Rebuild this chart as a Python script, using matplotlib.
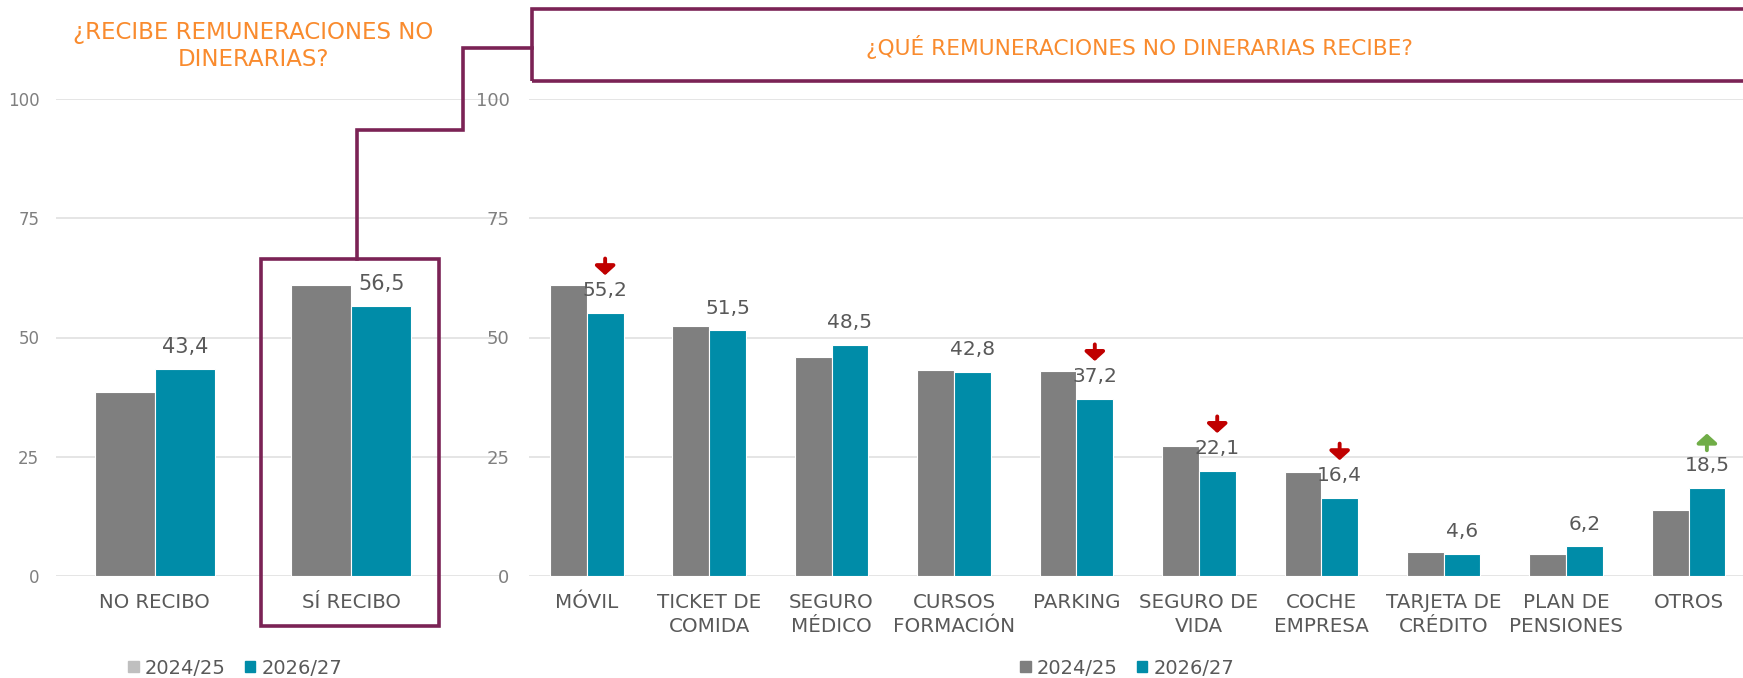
import matplotlib
matplotlib.use("Agg")
import matplotlib.pyplot as plt
import numpy as np
from matplotlib.patches import Patch, Rectangle
from matplotlib.lines import Line2D
from matplotlib.transforms import offset_copy

# data
left_categories = ["NO RECIBO", "SÍ RECIBO"]
left_prev = [38.5, 61.1]
left_curr = [43.4, 56.5]

right_categories = ["MÓVIL", "TICKET DE\nCOMIDA", "SEGURO\nMÉDICO", "CURSOS\nFORMACIÓN",
                    "PARKING", "SEGURO DE\nVIDA", "COCHE\nEMPRESA", "TARJETA DE\nCRÉDITO",
                    "PLAN DE\nPENSIONES", "OTROS"]
right_prev = [61.1, 52.4, 45.9, 43.1, 42.9, 27.3, 21.9, 5.1, 4.7, 13.8]
right_curr = [55.2, 51.5, 48.5, 42.8, 37.2, 22.1, 16.4, 4.6, 6.2, 18.5]
right_trend = [-1, 0, 0, 0, -1, -1, -1, 0, 0, 1]  # -1 down arrow, 1 up arrow

series_labels = ["2024/25", "2026/27"]
y_ticks = [0, 25, 50, 75, 100]

GRAY = "#7F7F7F"
LIGHT_GRAY = "#BFBFBF"
TEAL = "#008CA8"
ORANGE = "#F98B2E"
PURPLE = "#7B2355"
TEXT = "#595959"
TICK = "#7F7F7F"
GRID = "#E3E3E3"
RED = "#C00000"
GREEN = "#70AD47"

WIDE = ["DejaVu Sans"]
NARROW = ["Liberation Sans Narrow", "DejaVu Sans"]

W, H = 1743, 678
fig = plt.figure(figsize=(W / 100, H / 100), dpi=100)


def px_box(x0, x1, y_top, y_bot):
    return [x0 / W, 1 - y_bot / H, (x1 - x0) / W, (y_bot - y_top) / H]


def fx(x):
    return x / W


def fy(y):
    return 1 - y / H


def style_axes(ax, font, tick_pad):
    ax.set_ylim(0, 100)
    ax.set_yticks(y_ticks)
    for s in ax.spines.values():
        s.set_visible(False)
    ax.grid(axis="y", color=GRID, lw=1.3)
    ax.set_axisbelow(True)
    ax.tick_params(axis="both", length=0)
    ax.tick_params(axis="y", pad=tick_pad, labelsize=12, labelcolor=TICK)
    for lab in ax.get_yticklabels():
        lab.set_family(font)


# ---- left panel
axl = fig.add_axes(px_box(56, 500, 99, 576))
xl = np.arange(len(left_categories))
bw = 0.305
axl.bar(xl - bw / 2, left_prev, bw, color=GRAY, edgecolor="white", lw=0.8)
axl.bar(xl + bw / 2, left_curr, bw, color=TEAL, edgecolor="white", lw=0.8)
axl.set_xlim(-0.503, 1.757)
style_axes(axl, WIDE, 12)
axl.set_xticks(xl)
axl.set_xticklabels(left_categories, fontsize=14.2, color=TEXT, family=WIDE)
axl.tick_params(axis="x", pad=12)
for x, v in zip(xl, left_curr):
    axl.annotate(f"{v:.1f}".replace(".", ","), (x + bw / 2, v), xytext=(0, 16),
                 textcoords="offset points", ha="center", va="center",
                 fontsize=15, color=TEXT, family=WIDE)

# ---- right panel
axr = fig.add_axes(px_box(529, 1743, 99, 576))
xr = np.arange(len(right_categories))
bw = 0.30
axr.bar(xr - bw / 2, right_prev, bw, color=GRAY, edgecolor="white", lw=0.8)
axr.bar(xr + bw / 2, right_curr, bw, color=TEAL, edgecolor="white", lw=0.8)
axr.set_xlim(-0.472, 9.445)
style_axes(axr, NARROW, 14)
axr.tick_params(axis="y", labelsize=13)
axr.set_xticks(xr)
axr.set_xticklabels(right_categories, fontsize=14.3, color=TEXT, family=NARROW,
                    linespacing=1.35)
axr.tick_params(axis="x", pad=12)
for x, v, t in zip(xr, right_curr, right_trend):
    axr.annotate(f"{v:.1f}".replace(".", ","), (x + bw / 2, v), xytext=(0, 16),
                 textcoords="offset points", ha="center", va="center",
                 fontsize=14.5, color=TEXT, family=NARROW)
    if t != 0:
        lo = offset_copy(axr.transData, fig=fig, y=27, units="points")
        hi = offset_copy(axr.transData, fig=fig, y=39, units="points")
        pt = (x + bw / 2, v)
        axr.annotate("", xy=pt, xycoords=lo if t < 0 else hi,
                     xytext=pt, textcoords=hi if t < 0 else lo,
                     arrowprops=dict(arrowstyle="-|>,head_width=0.5,head_length=0.45",
                                     lw=2.8, color=RED if t < 0 else GREEN,
                                     shrinkA=0, shrinkB=0, mutation_scale=12))

# ---- titles, frames and connector
fig.text(fx(253), fy(46), "¿RECIBE REMUNERACIONES NO\nDINERARIAS?", ha="center",
         va="center", fontsize=16.5, color=ORANGE, family=WIDE, linespacing=1.2)
fig.text(fx(1139), fy(47), "¿QUÉ REMUNERACIONES NO DINERARIAS RECIBE?", ha="center",
         va="center", fontsize=15.7, color=ORANGE, family=WIDE)

fig.add_artist(Rectangle((fx(532), fy(81)), fx(1300), fy(9) - fy(81),
                         transform=fig.transFigure, fill=False, ec=PURPLE, lw=2.6))
fig.add_artist(Rectangle((fx(261), fy(626)), fx(439 - 261), fy(259) - fy(626),
                         transform=fig.transFigure, fill=False, ec=PURPLE, lw=2.6))
conn_x = [357, 357, 463, 463, 532]
conn_y = [259, 130, 130, 48, 48]
fig.add_artist(Line2D([fx(v) for v in conn_x], [fy(v) for v in conn_y],
                      transform=fig.transFigure, color=PURPLE, lw=2.6,
                      solid_joinstyle="miter"))

# ---- legends
for c0, prev_col in ((235, LIGHT_GRAY), (1127, GRAY)):
    handles = [Patch(color=prev_col), Patch(color=TEAL)]
    fig.legend(handles, series_labels, loc="center", bbox_to_anchor=(fx(c0), fy(668)),
               ncol=2, frameon=False, handlelength=0.55, handleheight=0.55,
               handletextpad=0.3, columnspacing=1.0,
               prop={"family": NARROW, "size": 14}, labelcolor=TEXT)

fig.savefig("out.png", dpi=100)
